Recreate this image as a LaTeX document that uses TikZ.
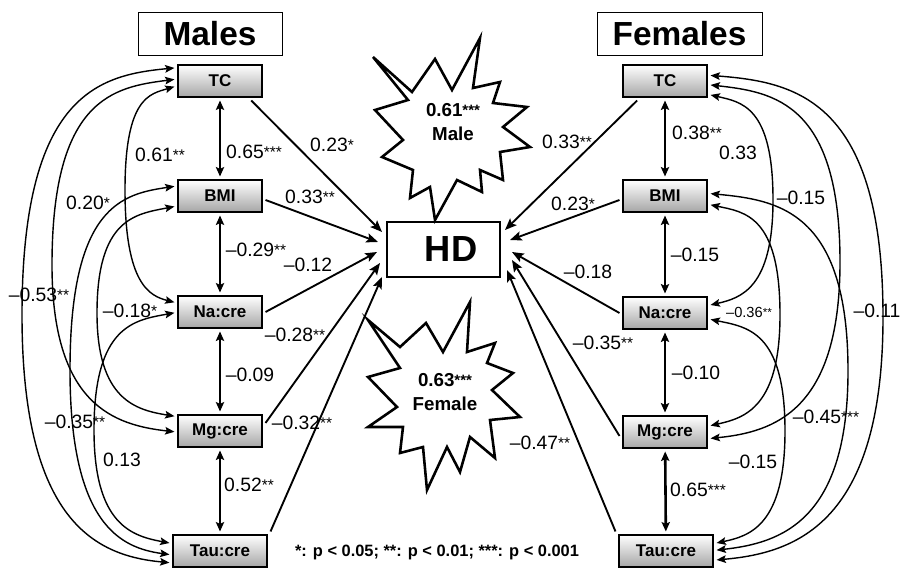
\documentclass[tikz,border=0pt]{standalone}
\usepackage{fontspec}
\setmainfont{Liberation Sans}
\usetikzlibrary{arrows.meta}

\newcommand{\stars}[1]{\raisebox{0.1ex}{\scalebox{0.8}{#1}}}

\tikzset{
	varbox/.style={draw, line width=2pt, top color=white, bottom color=black!35, minimum width=2.52cm, minimum height=0.96cm, inner sep=0pt, outer sep=3pt, font=\fontsize{14.5}{16}\selectfont\bfseries},
	titlebox/.style={draw, line width=0.6pt, minimum height=1.29cm, inner sep=0pt, font=\fontsize{28.5}{30}\selectfont\bfseries},
	coef/.style={inner sep=0pt, font=\fontsize{16.5}{18}\selectfont},
	tip/.style={Stealth[length=8pt, width=6.5pt, inset=1.5pt]},
	corr/.style={{Stealth[length=8pt, width=6.5pt, inset=1.5pt]}-{Stealth[length=8pt, width=6.5pt, inset=1.5pt]}, line width=1.2pt},
	vert/.style={{Stealth[length=8pt, width=7pt, inset=1.5pt]}-{Stealth[length=8pt, width=7pt, inset=1.5pt]}, line width=2.2pt},
	toHD/.style={-{Stealth[length=10pt, width=8pt, inset=2pt]}, line width=1.6pt},
	burst/.style={draw, fill=white, line width=2.2pt, line join=miter},
	burstlabel/.style={align=center, inner sep=0pt, font=\fontsize{16}{21}\selectfont\bfseries}
}

\begin{document}
\begin{tikzpicture}[x=0.03cm, y=-0.03cm]
			\useasboundingbox (0,0) rectangle (901,568);
			
			% Titulos
				\node[titlebox, minimum width=4.32cm] (mtitle) at (210,33.5) {Males};
				\node[titlebox, minimum width=4.95cm] (ftitle) at (679.5,33.5) {Females};
			
			% Variables hombres
				\node[varbox] (mTC) at (220,81) {TC};
				\node[varbox] (mBMI) at (220,196) {BMI};
				\node[varbox] (mNa) at (220,312) {Na:cre};
				\node[varbox] (mMg) at (220,431) {Mg:cre};
				\node[varbox, minimum width=2.82cm] (mTau) at (220,551) {Tau:cre};
			
			% Variables mujeres
				\node[varbox] (fTC) at (665,81) {TC};
				\node[varbox] (fBMI) at (665,196) {BMI};
				\node[varbox] (fNa) at (665,313) {Na:cre};
				\node[varbox] (fMg) at (665,432) {Mg:cre};
				\node[varbox, minimum width=2.82cm] (fTau) at (666,551) {Tau:cre};
			
			% Resultado
				\node[draw, line width=2.5pt, minimum width=3.39cm, minimum height=1.65cm, inner sep=0pt, font=\fontsize{31}{33}\selectfont\bfseries] (HD) at (443.5,249.5) {\hspace*{0.45cm}HD};
			
			% Estrellas
				\draw[burst] (373,57) -- (412,92) -- (435,59) -- (452,90) -- (480,38) -- (473,88) -- (500,82) -- (493,103) -- (527,107) -- (503,127) -- (530,147) -- (500,152) -- (503,180) -- (480,170) -- (482,192) -- (457,180) -- (435,220) -- (430,187) -- (410,198) -- (413,170) -- (382,157) -- (403,140) -- (375,110) -- (408,100) -- cycle;
				\node[burstlabel] (mstar) at (453,122) {0.61\stars{***}\\Male};
				
				\draw[burst] (368,320) -- (400,347) -- (426,323) -- (443,352) -- (470,302) -- (467,352) -- (495,343) -- (487,363) -- (513,373) -- (492,390) -- (520,417) -- (490,420) -- (495,458) -- (470,437) -- (460,472) -- (447,447) -- (427,490) -- (423,447) -- (400,453) -- (403,427) -- (368,427) -- (397,407) -- (368,377) -- (400,368) -- cycle;
				\node[burstlabel] (fstar) at (445,392) {0.63\stars{***}\\Female};
			
			% Puntas en HD
				\coordinate (hm1) at (382,232);
				\coordinate (hm2) at (378,242);
				\coordinate (hm3) at (377,252);
				\coordinate (hm4) at (380,263);
				\coordinate (hm5) at (382,277);
				\coordinate (hf1) at (505,230);
				\coordinate (hf2) at (510,240);
				\coordinate (hf3) at (512,252);
				\coordinate (hf4) at (512,260);
				\coordinate (hf5) at (507,270);
			
			% Flechas a HD
				\draw[toHD] (mTC.-32) -- (hm1);
				\draw[toHD] (mBMI.-5) -- (hm2);
				\draw[toHD] (mNa.east) -- (hm3);
				\draw[toHD] (mMg.10) -- (hm4);
				\draw[toHD] (mTau.north east) -- (hm5);
				
				\draw[toHD] (fTC.-145) -- (hf1);
				\draw[toHD] (fBMI.185) -- (hf2);
				\draw[toHD] (fNa.west) -- (hf3);
				\draw[toHD] (fMg.185) -- (hf4);
				\draw[toHD] (fTau.north west) -- (hf5);
			
			% Correlaciones verticales
				\draw[vert] (mTC) -- (mBMI);
				\draw[vert] (mBMI) -- (mNa);
				\draw[vert] (mNa) -- (mMg);
				\draw[vert] (mMg) -- (mTau);
				\draw[vert] (fTC) -- (fBMI);
				\draw[vert] (fBMI) -- (fNa);
				\draw[vert] (fNa) -- (fMg);
				\draw[vert] (fMg) -- (fTau);
			
			% Curvas hombres
				\draw[corr] (mTC.164) .. controls (100,75) and (22,93) .. (22,315) .. controls (22,523) and (97,556) .. (mTau.193.4);
				\draw[corr] (mTC.178.7) .. controls (114,87) and (52,98) .. (52,265) .. controls (52,405) and (114,425) .. (mMg.181.3);
				\draw[corr] (mTC.187.5) .. controls (150,94) and (125,97) .. (125,190) .. controls (125,285) and (150,296) .. (mNa.168.8);
				\draw[corr] (mBMI.168.8) .. controls (123,194) and (70,205) .. (70,370) .. controls (70,525) and (121,548) .. (mTau.184.5);
				\draw[corr] (mBMI.193.6) .. controls (136,214) and (97,218) .. (97,313) .. controls (97,400) and (136,410) .. (mMg.162.9);
				\draw[corr] (mNa.181.3) .. controls (135,320) and (94,325) .. (94,430) .. controls (94,525) and (132,536) .. (mTau.171);
			
			% Curvas mujeres
				\draw[corr] (fTC.7.5) .. controls (795,82) and (883,99) .. (883,317) .. controls (883,521) and (798,553) .. (fTau.-10.1);
				\draw[corr] (fTC.-5) .. controls (774,92) and (840,103) .. (840,262) .. controls (840,411) and (774,432) .. (fMg.-8.7);
				\draw[corr] (fTC.-17.1) .. controls (741,102) and (773,106) .. (773,200) .. controls (773,288) and (741,298) .. (fNa.10);
				\draw[corr] (fBMI.3.8) .. controls (778,200) and (848,211) .. (848,371) .. controls (848,521) and (781,543) .. (fTau.1.1);
				\draw[corr] (fBMI.-11.2) .. controls (745,212) and (780,216) .. (780,315) .. controls (780,407) and (745,418) .. (fMg.8.7);
				\draw[corr] (fNa.-8.7) .. controls (747,327) and (785,331) .. (785,431) .. controls (785,525) and (750,536) .. (fTau.9);
			
			% Coeficientes hombres
				\node[coef] (m-tc-hd) at (332,145) {0.23\stars{*}};
				\node[coef] (m-bmi-hd) at (310,197) {0.33\stars{**}};
				\node[coef] (m-tc-bmi) at (254,152) {0.65\stars{***}};
				\node[coef] (m-bmi-na) at (256,250) {--0.29\stars{**}};
				\node[coef] (m-na-hd) at (308,265) {--0.12};
				\node[coef] (m-mg-hd) at (295,335) {--0.28\stars{**}};
				\node[coef] (m-na-mg) at (250,375) {--0.09};
				\node[coef] (m-tau-hd) at (302,423) {--0.32\stars{**}};
				\node[coef] (m-mg-tau) at (249,485) {0.52\stars{**}};
				\node[coef] (m-tc-na) at (160,155) {0.61\stars{**}};
				\node[coef] (m-tc-mg) at (88,203) {0.20\stars{*}};
				\node[coef] (m-tc-tau) at (39,295) {--0.53\stars{**}};
				\node[coef] (m-bmi-mg) at (130,311) {--0.18\stars{*}};
				\node[coef] (m-bmi-tau) at (75,422) {--0.35\stars{**}};
				\node[coef] (m-na-tau) at (122,460) {0.13};
			
			% Coeficientes mujeres
				\node[coef] (f-tc-hd) at (567,142) {0.33\stars{**}};
				\node[coef] (f-bmi-hd) at (573,204) {0.23\stars{*}};
				\node[coef] (f-tc-bmi) at (697,133) {0.38\stars{**}};
				\node[coef] (f-tc-na) at (738,153) {0.33};
				\node[coef] (f-tc-mg) at (801,198) {--0.15};
				\node[coef] (f-bmi-na) at (695,255) {--0.15};
				\node[coef] (f-na-hd) at (588,272) {--0.18};
				\node[coef] (f-mg-hd) at (603,343) {--0.35\stars{**}};
				\node[coef, font=\fontsize{12.5}{14}\selectfont] (f-bmi-mg) at (749,312) {--0.36\stars{**}};
				\node[coef] (f-tc-tau) at (877,311) {--0.11};
				\node[coef] (f-na-mg) at (696,373) {--0.10};
				\node[coef] (f-bmi-tau) at (826,417) {--0.45\stars{***}};
				\node[coef] (f-na-tau) at (753,462) {--0.15};
				\node[coef] (f-mg-tau) at (698,490) {0.65\stars{***}};
				\node[coef] (f-tau-hd) at (540,443) {--0.47\stars{**}};
			
			% Nota
				\node[inner sep=0pt, font=\fontsize{14}{16}\selectfont\bfseries] (nota) at (437,552) {*: p < 0.05; **: p < 0.01; ***: p < 0.001};
		\end{tikzpicture}
\end{document}
